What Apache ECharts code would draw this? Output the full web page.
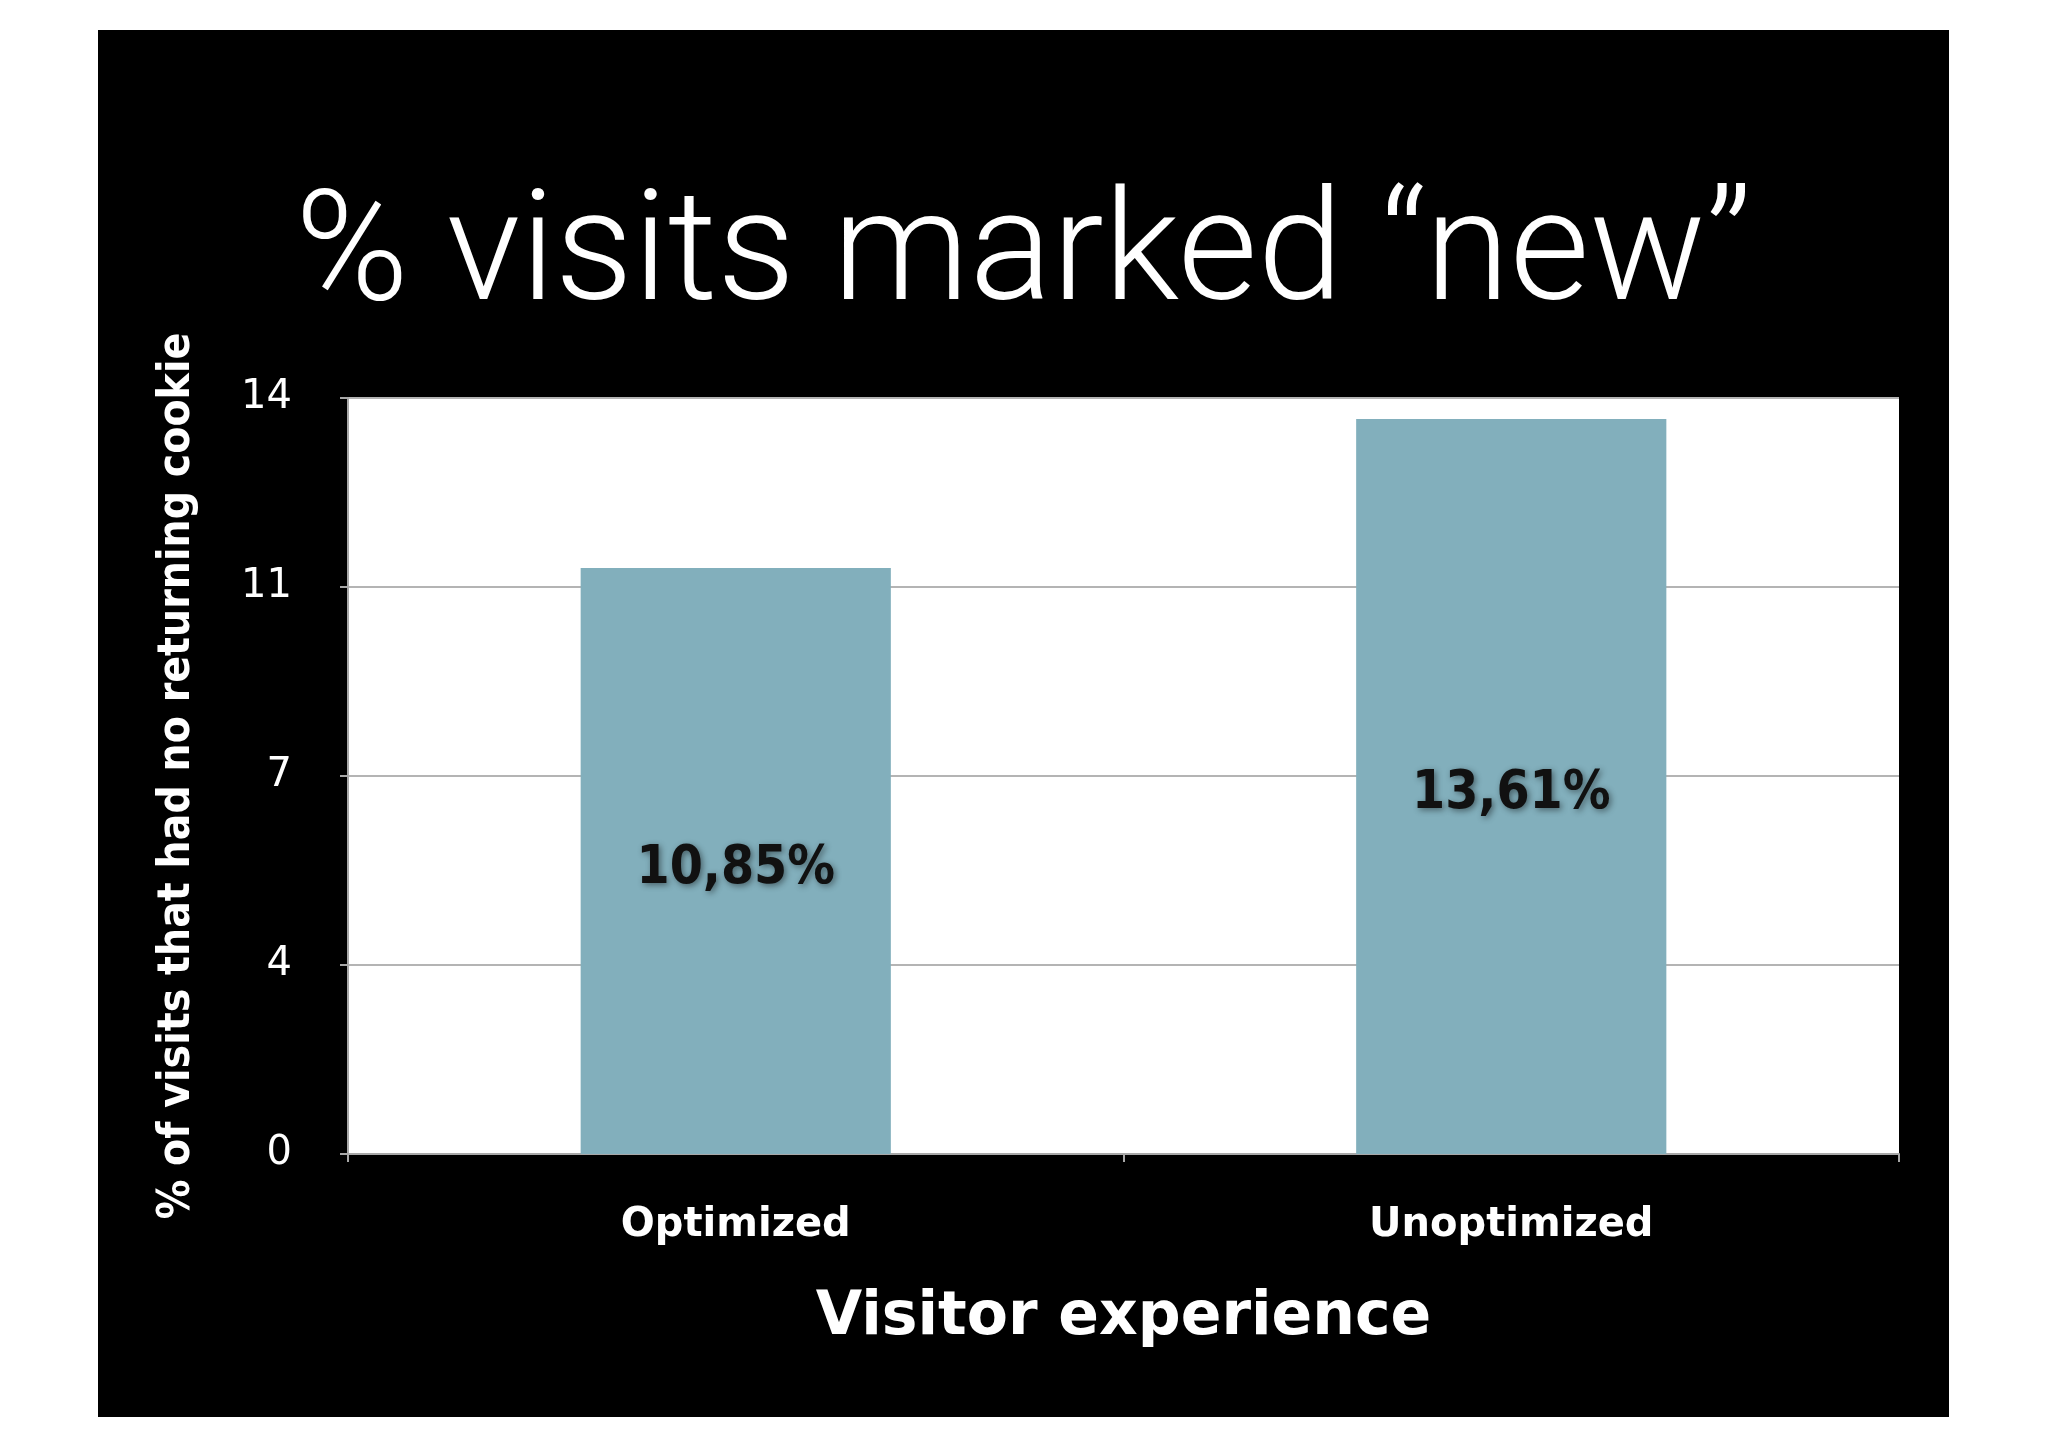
<!DOCTYPE html>
<html>
<head>
<meta charset="utf-8">
<script src="https://cdn.jsdelivr.net/npm/echarts@6/dist/echarts.min.js"></script>
<style>
  html, body { margin: 0; padding: 0; background: #fff; }
  #chart { position: absolute; left: 98px; top: 30px; width: 1851px; height: 1387px; background: #000; }
</style>
</head>
<body>
<div id="chart"></div>
<script>
// 数据
const categories = ['Optimized', 'Unoptimized'];
const visitShares = [10.85, 13.61];
const yMin = 0;
const yMax = 14;
const yStep = 3.5;

const chart = echarts.init(document.getElementById('chart'));

const option = {
  backgroundColor: '#000',
  title: {
    text: '% visits marked \u201cnew\u201d',
    left: 'center',
    top: 148,
    textStyle: {
      color: '#fff',
      fontFamily: 'Roboto, "Liberation Sans", sans-serif',
      fontWeight: 300,
      fontSize: 154
    }
  },
  grid: {
    left: 250,
    right: 50,
    top: 368,
    bottom: 263,
    show: true,
    backgroundColor: '#fff',
    borderWidth: 0
  },
  xAxis: {
    type: 'category',
    data: categories,
    name: 'Visitor experience',
    nameLocation: 'middle',
    nameGap: 134,
    nameTextStyle: {
      color: '#fff',
      fontFamily: '"DejaVu Sans", sans-serif',
      fontWeight: 'bold',
      fontSize: 60
    },
    axisLine: { lineStyle: { color: '#a8a8a8', width: 2 } },
    axisTick: { show: true, length: 8, lineStyle: { color: '#a8a8a8', width: 2 } },
    axisLabel: {
      color: '#fff',
      margin: 52,
      fontFamily: '"DejaVu Sans", sans-serif',
      fontWeight: 'bold',
      fontSize: 40
    }
  },
  yAxis: {
    type: 'value',
    min: yMin,
    max: yMax,
    interval: yStep,
    name: '% of visits that had no returning cookie',
    nameLocation: 'middle',
    nameRotate: 90,
    nameGap: 148,
    nameTextStyle: {
      color: '#fff',
      fontFamily: '"DejaVu Sans Condensed", "Liberation Sans Narrow", sans-serif',
      fontWeight: 'bold',
      fontSize: 44
    },
    axisLine: { show: true, lineStyle: { color: '#a8a8a8', width: 2 } },
    axisTick: { show: true, length: 8, lineStyle: { color: '#a8a8a8', width: 2 } },
    axisLabel: {
      color: '#fff',
      margin: 56,
      fontFamily: '"DejaVu Sans", sans-serif',
      fontSize: 40,
      formatter: v => String(Math.round(v))
    },
    splitLine: { show: true, lineStyle: { color: '#b4b4b4', width: 2 } }
  },
  series: [{
    type: 'bar',
    data: visitShares,
    barWidth: '40%',
    itemStyle: { color: '#82afbc' },
    label: {
      show: true,
      position: 'inside',
      offset: [0, 8],
      formatter: p => p.value.toFixed(2).replace('.', ',') + '%',
      color: '#111',
      fontFamily: '"DejaVu Sans Condensed", "Liberation Sans Narrow", sans-serif',
      fontWeight: 'bold',
      fontSize: 53,
      textShadowColor: 'rgba(0,0,0,0.45)',
      textShadowBlur: 6,
      textShadowOffsetX: 2,
      textShadowOffsetY: 2
    }
  }]
};

chart.setOption(option);
</script>
</body>
</html>
